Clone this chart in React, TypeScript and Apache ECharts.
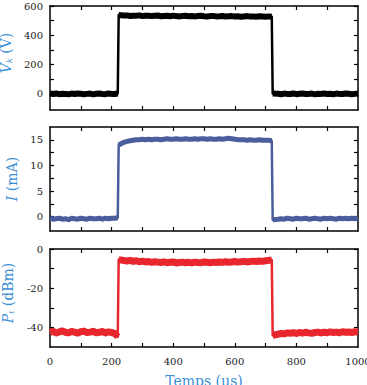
import React, { useEffect, useRef } from "react";
import * as echarts from "echarts";

// Sample times of the recorded pulse (µs); the edges are sampled at 223 µs
const times: number[] = [
  0, 10, 20, 30, 40, 50, 60, 70, 80, 90, 100, 110, 120, 130, 140, 150, 160, 170, 180, 190, 200, 210, 220,
  223, 240, 250, 260, 270, 280, 290, 300, 310, 320,
  330, 340, 350, 360, 370, 380, 390, 400, 410, 420,
  430, 440, 450, 460, 470, 480, 490, 500, 510, 520,
  530, 540, 550, 560, 570, 580, 590, 600, 610, 620,
  630, 640, 650, 660, 670, 680, 690, 700, 710, 720,
  723, 740, 750, 760, 770, 780, 790, 800, 810, 820, 830, 840, 850, 860, 870, 880, 890, 900, 910, 920, 930, 940, 950, 960, 970, 980, 990, 1000,
];

// Discharge voltage V_k (V)
const voltage: number[] = [
  2, -1, 3, -2, 1, 0, -3, 2, -1, 3, 1, -2, 0, 2, -3, 1, 2, -1, -2, 3, 0, -1, 2,
  538, 535, 536, 532, 534, 533, 536, 531, 533, 534,
  531, 533, 535, 530, 532, 533, 530, 534, 531, 529,
  532, 533, 530, 532, 529, 531, 533, 530, 528, 531,
  532, 529, 530, 532, 528, 530, 531, 528, 530, 527,
  529, 531, 528, 529, 527, 530, 528, 526, 529, 527,
  3, 1, -2, 2, 0, -1, 3, -2, 1, 2, -1, 0, 2, -3, 1, 0, 2, -1, 1, -2, 2, 0, -1, 3, 1, -2, 0, 2,
];

// Discharge current I (mA)
const current: number[] = [
  -0.3, -0.5, -0.4, -0.3, -0.5, -0.4, -0.6, -0.3, -0.4, -0.5, -0.3, -0.4, -0.5, -0.3, -0.4, -0.4, -0.3, -0.5, -0.3, -0.4, -0.3, -0.3, -0.2,
  14.0, 14.5, 14.7, 14.8, 14.9, 15.0, 15.0, 15.1, 15.0, 15.1,
  15.0, 15.1, 15.1, 15.0, 15.1, 15.2, 15.1, 15.1, 15.2, 15.1,
  15.1, 15.2, 15.1, 15.1, 15.2, 15.1, 15.2, 15.2, 15.1, 15.2,
  15.1, 15.1, 15.2, 15.1, 15.2, 15.3, 15.2, 15.1, 15.0, 15.0,
  15.0, 14.9, 15.0, 14.9, 14.9, 15.0, 14.9, 14.9, 14.9, 14.8,
  -0.6, -0.5, -0.4, -0.5, -0.3, -0.4, -0.5, -0.3, -0.4, -0.4, -0.3, -0.5, -0.4, -0.3, -0.4, -0.5, -0.3, -0.4, -0.3, -0.4, -0.5, -0.3, -0.4, -0.3, -0.4, -0.3, -0.4, -0.3,
];

// Transmitted power P_t (dBm)
const power: number[] = [
  -42.6, -42.0, -42.9, -42.3, -41.8, -42.5, -42.8, -42.1, -42.4, -42.9, -42.2, -41.9, -42.6, -42.4, -42.0, -42.7, -42.5, -42.1, -42.8, -42.3, -42.6, -43.0, -44.8,
  -5.4, -5.9, -6.1, -5.8, -6.3, -6.0, -6.5, -6.2, -6.6, -6.4,
  -6.8, -6.5, -6.7, -6.9, -6.6, -7.0, -6.8, -6.6, -7.1, -6.9,
  -6.7, -7.0, -6.8, -7.1, -6.7, -6.9, -7.0, -6.6, -6.8, -7.0,
  -6.7, -6.9, -6.6, -6.8, -6.5, -6.8, -6.6, -6.4, -6.7, -6.5,
  -6.3, -6.6, -6.4, -6.2, -6.4, -6.1, -6.3, -6.0, -5.8, -5.6,
  -44.0, -43.5, -43.1, -43.3, -42.8, -43.0, -42.7, -43.1, -42.6, -42.9,
  -42.5, -42.8, -43.0, -42.6, -42.4, -42.8, -42.5, -42.7, -42.3, -42.6,
  -42.4, -42.7, -42.2, -42.5, -42.3, -42.6, -42.2, -42.4,
];

// Indices after which the pulse switches (rising and falling edges)
const edgeAfter = [22, 72];

// Tick positions and labelled values
const xTicks = [100, 200, 300, 400, 500, 600, 700, 800, 900];
const xLabels = [0, 200, 400, 600, 800, 1000];
const vTicks = [0, 100, 200, 300, 400, 500, 600];
const vLabels = [0, 200, 400, 600];
const iTicks = [0, 2.5, 5, 7.5, 10, 12.5, 15];
const iLabels = [0, 5, 10, 15];
const pTicks = [-40, -30, -20, -10, 0];
const pLabels = [-40, -20, 0];

const SERIF = "DejaVu Serif";
const NAME_BLUE = "#3b8fd6";

const grids = [
  { left: 50, top: 6, width: 308, height: 104, outerBoundsMode: "none" },
  { left: 50, top: 127, width: 308, height: 104, outerBoundsMode: "none" },
  { left: 50, top: 249, width: 308, height: 98, outerBoundsMode: "none" },
];

const frameLine = { show: true, onZero: false, lineStyle: { color: "#000", width: 1.5 } };

function tickStyle(values: number[]) {
  return { show: true, inside: true, length: 4, customValues: values, lineStyle: { color: "#000", width: 1.2 } };
}

function labelStyle(values: number[], show: boolean, margin: number) {
  return {
    show,
    customValues: values,
    formatter: (v: number) => String(v),
    fontFamily: SERIF,
    fontSize: 10,
    color: "#1a1a1a",
    margin,
  };
}

const nameRich = {
  it: { fontFamily: SERIF, fontStyle: "italic" as const, fontSize: 14, color: NAME_BLUE, lineHeight: 15 },
  sub: { fontFamily: SERIF, fontStyle: "italic" as const, fontSize: 8, color: NAME_BLUE, lineHeight: 15, verticalAlign: "bottom" as const },
  rm: { fontFamily: SERIF, fontSize: 14, color: NAME_BLUE, lineHeight: 15 },
};

function buildXAxes() {
  const axes: any[] = [];
  grids.forEach((_, g) => {
    const last = g === grids.length - 1;
    axes.push({
      type: "value",
      gridIndex: g,
      position: "bottom",
      min: 0,
      max: 1000,
      axisLine: frameLine,
      axisTick: tickStyle(xTicks),
      axisLabel: labelStyle(xLabels, last, 9),
      splitLine: { show: false },
      ...(last
        ? {
            name: "Temps (μs)",
            nameLocation: "middle",
            nameGap: 27,
            nameTextStyle: { fontFamily: SERIF, fontSize: 14, color: NAME_BLUE },
          }
        : {}),
    });
    axes.push({
      type: "value",
      gridIndex: g,
      position: "top",
      min: 0,
      max: 1000,
      axisLine: frameLine,
      axisTick: tickStyle(xTicks),
      axisLabel: { show: false },
      splitLine: { show: false },
    });
  });
  return axes;
}

const yDefs = [
  { min: -110, max: 600, ticks: vTicks, labels: vLabels, name: "{it|V}{sub|k}{rm| (V)}", lift: 10 },
  { min: -2.8, max: 17.5, ticks: iTicks, labels: iLabels, name: "{it|I}{rm| (mA)}", lift: 0 },
  { min: -50, max: 0, ticks: pTicks, labels: pLabels, name: "{it|P}{sub|t}{rm| (dBm)}", lift: 10 },
];

function buildYAxes() {
  const axes: any[] = [];
  yDefs.forEach((d, g) => {
    axes.push({
      type: "value",
      gridIndex: g,
      position: "left",
      min: d.min,
      max: d.max,
      axisLine: frameLine,
      axisTick: tickStyle(d.ticks),
      axisLabel: labelStyle(d.labels, true, 7),
      splitLine: { show: false },
      name: d.name,
      nameLocation: "middle",
      nameGap: 30,
      nameTextStyle: { rich: nameRich, padding: [0, 0, 0, d.lift] },
    });
    axes.push({
      type: "value",
      gridIndex: g,
      position: "right",
      min: d.min,
      max: d.max,
      axisLine: frameLine,
      axisTick: tickStyle(d.ticks),
      axisLabel: { show: false },
      splitLine: { show: false },
    });
  });
  return axes;
}

// Thin line through every sample: carries the steep switching edges
function edgeTrace(values: number[], g: number, color: string) {
  return {
    type: "line",
    xAxisIndex: g * 2,
    yAxisIndex: g * 2,
    data: times.map((t, i) => [t, values[i]]),
    showSymbol: false,
    symbol: "none",
    lineStyle: { color, width: 2.5, join: "round" },
    silent: true,
    z: 2,
  };
}

// Wide band for the noisy plateaus, broken at the switching edges
function bandTrace(values: number[], g: number, color: string, width: number) {
  const data: any[] = [];
  times.forEach((t, i) => {
    data.push([t, values[i]]);
    if (edgeAfter.includes(i)) data.push([(t + times[i + 1]) / 2, "-"]);
  });
  return {
    type: "line",
    xAxisIndex: g * 2,
    yAxisIndex: g * 2,
    data,
    connectNulls: false,
    showSymbol: false,
    symbol: "none",
    lineStyle: { color, width, join: "round", cap: "butt" },
    silent: true,
    z: 3,
  };
}

export default function App() {
  const ref = useRef<HTMLDivElement>(null);

  useEffect(() => {
    if (!ref.current) return;
    const chart = echarts.init(ref.current, undefined, { renderer: "svg" });
    chart.setOption({
      animation: false,
      backgroundColor: "#fff",
      textStyle: { fontFamily: SERIF },
      grid: grids,
      xAxis: buildXAxes(),
      yAxis: buildYAxes(),
      series: [
        edgeTrace(voltage, 0, "#000000"),
        bandTrace(voltage, 0, "#000000", 6),
        edgeTrace(current, 1, "#4a5d9c"),
        bandTrace(current, 1, "#4a5d9c", 5),
        edgeTrace(power, 2, "#e8262d"),
        bandTrace(power, 2, "#e8262d", 7),
      ],
    });
    return () => chart.dispose();
  }, []);

  return (
    <div
      ref={ref}
      style={{ position: "fixed", left: 0, top: 0, width: 367, height: 385, background: "#fff" }}
    />
  );
}
